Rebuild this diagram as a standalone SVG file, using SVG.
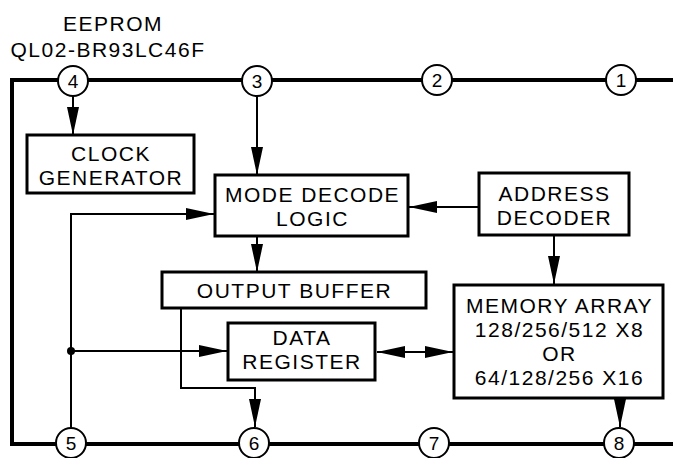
<svg xmlns="http://www.w3.org/2000/svg" width="673" height="458" viewBox="0 0 673 458">
<style>
text{font-family:"Liberation Sans",Arial,sans-serif;fill:#000;text-anchor:middle}
.lbl{font-size:21px;letter-spacing:1.5px}
.num{font-size:19px}
.box{fill:#fff;stroke:#000;stroke-width:3}
.pin{fill:#fff;stroke:#000;stroke-width:2}
.bus{fill:none;stroke:#000;stroke-width:4}
.wire{fill:none;stroke:#000;stroke-width:2}
.arr{marker-end:url(#ah)}
</style>
<defs>
<marker id="ah" markerUnits="userSpaceOnUse" markerWidth="28" markerHeight="12" refX="28" refY="6" orient="auto-start-reverse" viewBox="0 0 28 12">
<path d="M0,0 L28,6 L0,12 Z" fill="#000"/>
</marker>
</defs>
<rect width="673" height="458" fill="#fff"/>
<g id="title">
<text class="lbl" x="113" y="31">EEPROM</text>
<text class="lbl" x="108" y="57">QL02-BR93LC46F</text>
</g>
<g id="connectors">
<path class="bus" d="M673,80 H12 V444 H673"/>
<path class="wire arr" d="M73,96 V135"/>
<path class="wire arr" d="M257,96 V175"/>
<path class="wire arr" d="M479,207 H409"/>
<path class="wire arr" d="M554,235 V284"/>
<path class="wire arr" d="M257,237 V272"/>
<path class="wire arr" d="M620,398 V427"/>
<path class="wire arr" d="M71,428 V214 H214"/>
<path class="wire arr" d="M71,351 H227"/>
<path class="wire arr" d="M181,308 V388 H255 V427"/>
<path class="wire" d="M377,352 H453" marker-start="url(#ah)" marker-end="url(#ah)"/>
<circle cx="71" cy="351" r="4" fill="#000"/>
</g>
<g id="pin1"><circle class="pin" cx="621" cy="80" r="15"/><text class="num" x="621" y="87">1</text></g>
<g id="pin2"><circle class="pin" cx="437" cy="80" r="15"/><text class="num" x="437" y="87">2</text></g>
<g id="pin3"><circle class="pin" cx="257" cy="81" r="15"/><text class="num" x="257" y="88">3</text></g>
<g id="pin4"><circle class="pin" cx="73" cy="81" r="15"/><text class="num" x="73" y="88">4</text></g>
<g id="pin5"><circle class="pin" cx="71" cy="443" r="15"/><text class="num" x="71" y="450">5</text></g>
<g id="pin6"><circle class="pin" cx="254" cy="443" r="15"/><text class="num" x="254" y="450">6</text></g>
<g id="pin7"><circle class="pin" cx="434" cy="443" r="15"/><text class="num" x="434" y="450">7</text></g>
<g id="pin8"><circle class="pin" cx="619" cy="443" r="15"/><text class="num" x="619" y="450">8</text></g>
<g id="clock"><rect class="box" x="27" y="135" width="167" height="58"/><text class="lbl" x="111" y="161">CLOCK</text><text class="lbl" x="111" y="185">GENERATOR</text></g>
<g id="mode"><rect class="box" x="215" y="175" width="193" height="61"/><text class="lbl" x="312.5" y="202">MODE DECODE</text><text class="lbl" x="312.5" y="226">LOGIC</text></g>
<g id="addr"><rect class="box" x="479" y="173" width="150" height="62"/><text class="lbl" x="554.5" y="201">ADDRESS</text><text class="lbl" x="554.5" y="225">DECODER</text></g>
<g id="outbuf"><rect class="box" x="162" y="272" width="264" height="36"/><text class="lbl" x="294.5" y="298">OUTPUT BUFFER</text></g>
<g id="datareg"><rect class="box" x="228" y="323" width="147" height="57"/><text class="lbl" x="302" y="345">DATA</text><text class="lbl" x="302" y="369">REGISTER</text></g>
<g id="mem"><rect class="box" x="454" y="285" width="209" height="113"/><text class="lbl" x="559.5" y="313">MEMORY ARRAY</text><text class="lbl" x="559.5" y="337">128/256/512 X8</text><text class="lbl" x="559.5" y="361">OR</text><text class="lbl" x="559.5" y="385">64/128/256 X16</text></g>
</svg>
